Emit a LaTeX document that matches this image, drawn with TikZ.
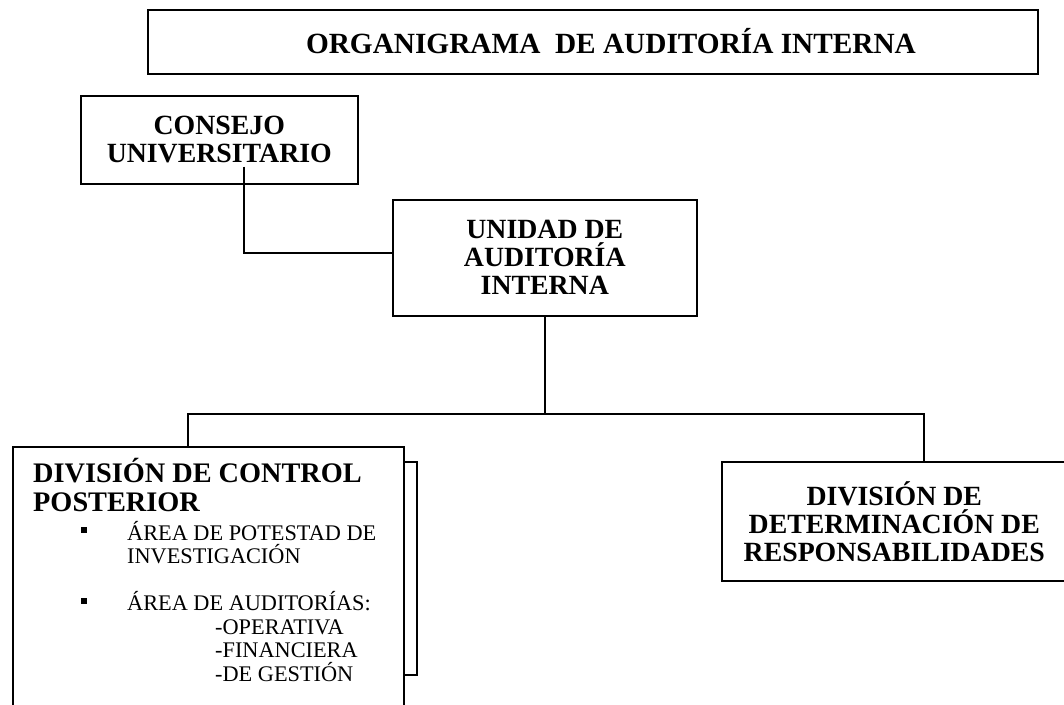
\documentclass[tikz,border=0pt]{standalone}
\usepackage{fontspec}
\setmainfont{Liberation Serif}
\usetikzlibrary{calc}
\tikzset{
  boxed/.style={draw, line width=1.6pt, inner sep=0pt, align=center,
    font=\fontsize{27.8}{28}\selectfont\bfseries},
  conn/.style={line width=1.6pt},
  headtxt/.style={inner sep=0pt, anchor=base west, font=\fontsize{28.3}{30}\selectfont\bfseries},
  itemtxt/.style={inner sep=0pt, anchor=base west, font=\fontsize{22.3}{23.5}\selectfont},
  bulletsq/.style={fill, inner sep=0pt, minimum size=5.5pt}
}
\begin{document}
\begin{tikzpicture}[x=1pt,y=-1pt]
\useasboundingbox (0,0) rectangle (1064,704);
% title
\node[boxed, anchor=north west, minimum width=890pt, minimum height=64pt] (title) at (147,9) {};
\node[inner sep=0pt, anchor=base, font=\fontsize{29.3}{30}\selectfont\bfseries] (titletext) at (611,53) {ORGANIGRAMA\ \ DE AUDITORÍA INTERNA};
% consejo
\node[boxed, anchor=north west, minimum width=277pt, minimum height=88pt] (consejo) at (80,95) {CONSEJO\\UNIVERSITARIO};
% unidad
\node[boxed, anchor=north west, minimum width=304pt, minimum height=116pt] (unidad) at (392,199) {UNIDAD DE\\AUDITORÍA\\INTERNA};
% left division
\node[boxed, anchor=north west, minimum width=391pt, minimum height=280pt] (left) at (12,446) {};
\coordinate (shtop) at (417,462);
\coordinate (shbot) at (417,675);
\draw[conn] (left.east |- shtop) -- (shtop) -- (shbot) -- (left.east |- shbot);
\node[headtxt] (h1) at (33,482) {DIVISIÓN DE CONTROL};
\node[headtxt] (h2) at (33,511) {POSTERIOR};
\node[bulletsq] (b1) at (84,530) {};
\node[itemtxt] (i1) at (127,540.5) {ÁREA DE POTESTAD DE};
\node[itemtxt] (i2) at (127,563.5) {INVESTIGACIÓN};
\node[bulletsq] (b2) at (84,601) {};
\node[itemtxt] (i3) at (127,610.5) {ÁREA DE AUDITORÍAS:};
\node[itemtxt] (i4) at (215,634) {-OPERATIVA};
\node[itemtxt] (i5) at (215,657.5) {-FINANCIERA};
\node[itemtxt] (i6) at (215,681) {-DE GESTIÓN};
% right division
\node[boxed, anchor=north west, minimum width=345pt, minimum height=119pt] (right) at (721,461) {DIVISIÓN DE\\DETERMINACIÓN DE\\RESPONSABILIDADES};
% connectors
\coordinate (cstart) at ($(consejo.south)+(24.5,-18)$);
\draw[conn] (cstart) |- ($(unidad.west)+(0,-5)$);
\coordinate (bus) at (unidad.south |- 0,414);
\draw[conn] (unidad.south) -- (bus);
\draw[conn] (bus) -| ($(left.north west)+(176,0)$);
\draw[conn] (bus) -| ($(right.north west)+(203,0)$);
\end{tikzpicture}
\end{document}
